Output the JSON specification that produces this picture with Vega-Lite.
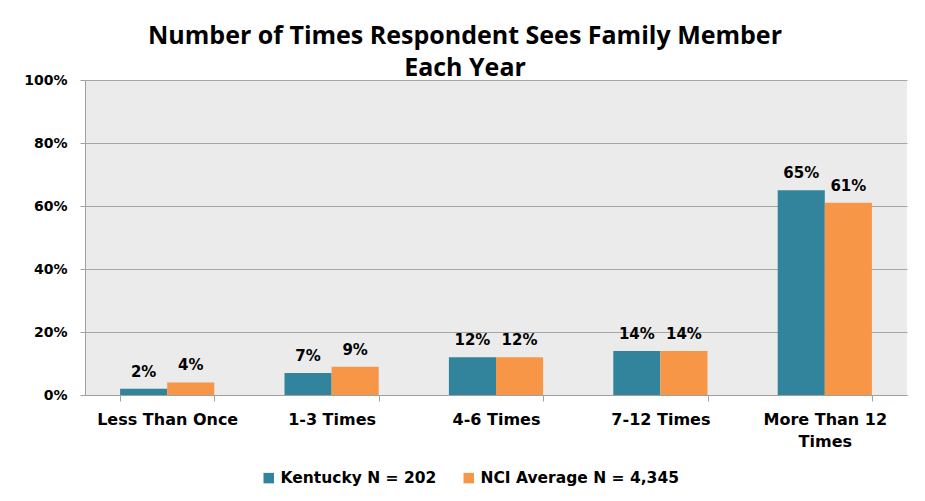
{
  "$schema": "https://vega.github.io/schema/vega-lite/v6.json",
  "width": 822,
  "height": 315,
  "autosize": {"type": "none"},
  "padding": {"left": 85, "top": 80, "right": 18, "bottom": 106},
  "background": "white",
  "title": {
    "text": ["Number of Times Respondent Sees Family Member", "Each Year"],
    "font": "Open Sans",
    "fontSize": 25,
    "fontWeight": "bold",
    "color": "#000000",
    "anchor": "middle",
    "dx": -31,
    "offset": -8,
    "lineHeight": 32
  },
  "data": {
    "values": [
      {"category": "Less Than Once", "series": "Kentucky N = 202", "value": 0.02},
      {"category": "Less Than Once", "series": "NCI Average N = 4,345", "value": 0.04},
      {"category": "1-3 Times", "series": "Kentucky N = 202", "value": 0.07},
      {"category": "1-3 Times", "series": "NCI Average N = 4,345", "value": 0.09},
      {"category": "4-6 Times", "series": "Kentucky N = 202", "value": 0.12},
      {"category": "4-6 Times", "series": "NCI Average N = 4,345", "value": 0.12},
      {"category": "7-12 Times", "series": "Kentucky N = 202", "value": 0.14},
      {"category": "7-12 Times", "series": "NCI Average N = 4,345", "value": 0.14},
      {"category": "More Than 12 Times", "series": "Kentucky N = 202", "value": 0.65},
      {"category": "More Than 12 Times", "series": "NCI Average N = 4,345", "value": 0.61}
    ]
  },
  "encoding": {
    "x": {
      "field": "category",
      "type": "nominal",
      "sort": ["Less Than Once", "1-3 Times", "4-6 Times", "7-12 Times", "More Than 12 Times"],
      "scale": {"paddingInner": 0.427, "paddingOuter": 0.2135},
      "axis": {
        "title": null,
        "labelAngle": 0,
        "tickBand": "extent",
        "tickSize": 6,
        "tickColor": "#a0a0a0",
        "domainColor": "#a0a0a0",
        "labelFont": "DejaVu Sans",
        "labelFontWeight": "bold",
        "labelFontSize": 16,
        "labelColor": "#000000",
        "labelPadding": 10,
        "labelLineHeight": 22,
        "labelExpr": "datum.value == 'More Than 12 Times' ? ['More Than 12', 'Times'] : datum.value"
      }
    },
    "xOffset": {"field": "series", "type": "nominal"},
    "y": {
      "field": "value",
      "type": "quantitative",
      "scale": {"domain": [0, 1]},
      "axis": {
        "title": null,
        "values": [0, 0.2, 0.4, 0.6, 0.8, 1],
        "format": ".0%",
        "gridColor": "#a6a6a6",
        "domainColor": "#a0a0a0",
        "tickColor": "#a0a0a0",
        "tickSize": 5,
        "labelFont": "DejaVu Sans",
        "labelFontWeight": "bold",
        "labelFontSize": 14,
        "labelColor": "#000000",
        "labelPadding": 13
      }
    }
  },
  "layer": [
    {
      "mark": {"type": "bar"},
      "encoding": {
        "color": {
          "field": "series",
          "type": "nominal",
          "scale": {"domain": ["Kentucky N = 202", "NCI Average N = 4,345"], "range": ["#31849b", "#f79646"]},
          "legend": {
            "title": null,
            "orient": "none",
            "legendX": 176,
            "legendY": 390,
            "direction": "horizontal",
            "symbolType": "square",
            "symbolSize": 110,
            "symbolStrokeWidth": 0,
            "labelFont": "DejaVu Sans",
            "labelFontWeight": "bold",
            "labelFontSize": 15.5,
            "labelLimit": 400,
            "labelColor": "#000000",
            "columnPadding": 24
          }
        }
      }
    },
    {
      "mark": {"type": "text", "baseline": "bottom", "dy": -9, "font": "DejaVu Sans", "fontWeight": "bold", "fontSize": 15, "color": "#000000"},
      "encoding": {
        "text": {"field": "value", "type": "quantitative", "format": ".0%"}
      }
    }
  ],
  "config": {
    "view": {"fill": "#ebebeb", "stroke": null}
  }
}
